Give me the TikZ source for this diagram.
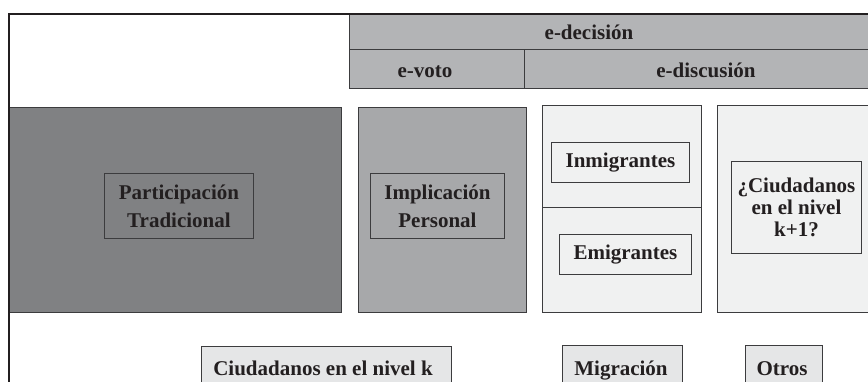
\documentclass[tikz,border=0pt]{standalone}
\usepackage{fontspec}
\setmainfont{Liberation Serif}
\definecolor{ink}{HTML}{231F20}
\definecolor{edge}{HTML}{3C3C3E}
\definecolor{hdrfill}{HTML}{B3B4B6}
\definecolor{darkfill}{HTML}{808183}
\definecolor{midfill}{HTML}{A7A8AA}
\definecolor{lightfill}{HTML}{F0F1F1}
\definecolor{botfill}{HTML}{E5E6E7}
\tikzset{
  box/.style={draw=edge, line width=0.9pt, rectangle, inner sep=0pt, anchor=north west},
  lbl/.style={text=ink, font=\bfseries\fontsize{21}{28}\selectfont, inner sep=0pt},
  frame/.style={draw=ink, line width=2.6pt},
}
\begin{document}
\begin{tikzpicture}[x=1pt,y=-1pt]
\useasboundingbox (0,0) rectangle (868,381);
\clip (0,0) rectangle (868,381);
% header
\node[box, fill=hdrfill, minimum width=540pt, minimum height=35pt] (hdr) at (349,14) {};
\node[box, fill=hdrfill, minimum width=175pt, minimum height=39pt] (evoto) at (349,49) {};
\node[box, fill=hdrfill, minimum width=365pt, minimum height=39pt] (edisc) at (524,49) {};
\node[lbl, anchor=base] (tdec) at (589,39) {e-decisión};
\node[lbl, anchor=base] (tvoto) at (425,77) {e-voto};
\node[lbl, anchor=base] (tdisc) at (706,77) {e-discusión};
% big boxes
\node[box, fill=darkfill, minimum width=332pt, minimum height=205pt] (partic) at (9,107) {};
\node[box, fill=midfill, minimum width=168pt, minimum height=205pt] (impl) at (358,107) {};
\node[box, fill=lightfill, minimum width=159pt, minimum height=207pt] (migr) at (542,105) {};
\coordinate (mdl) at (542,207);
\coordinate (mdr) at (701,207);
\draw[draw=edge, line width=0.9pt] (mdl) -- (mdr);
\node[box, fill=lightfill, minimum width=180pt, minimum height=207pt] (otros) at (717,105) {};
% inner boxes
\node[box, minimum width=149pt, minimum height=65pt] (ipartic) at (104,173) {};
\node[lbl, align=center] (tpartic) at (ipartic.center) {Participación\\Tradicional};
\node[box, minimum width=134pt, minimum height=65pt] (iimpl) at (370,173) {};
\node[lbl, align=center] (timpl) at (iimpl.center) {Implicación\\Personal};
\node[box, minimum width=138pt, minimum height=40pt] (inmig) at (551,142) {};
\node[lbl] (tinmig) at (inmig.center) {Inmigrantes};
\node[box, minimum width=132pt, minimum height=40pt] (emig) at (559,234) {};
\node[lbl] (temig) at (emig.center) {Emigrantes};
\node[box, minimum width=130pt, minimum height=92pt] (kone) at (731,161) {};
\node[lbl, align=center, font=\bfseries\fontsize{21}{22}\selectfont] (tkone) at (kone.center) {¿Ciudadanos\\en el nivel\\k+1?};
% bottom boxes
\node[box, fill=botfill, minimum width=250pt, minimum height=60pt] (bk) at (201,346) {};
\node[lbl, anchor=base] (tbk) at (323,375) {Ciudadanos en el nivel k};
\node[box, fill=botfill, minimum width=120pt, minimum height=60pt] (bm) at (562,345) {};
\node[lbl, anchor=base] (tbm) at (621,375) {Migración};
\node[box, fill=botfill, minimum width=77pt, minimum height=60pt] (bo) at (745,345) {};
\node[lbl, anchor=base] (tbo) at (782,375) {Otros};
% frame
\coordinate (fbl) at (9,400);
\coordinate (ftl) at (9,14);
\coordinate (ftr) at (880,14);
\draw[frame] (fbl) -- (ftl) -- (ftr);
\end{tikzpicture}
\end{document}
